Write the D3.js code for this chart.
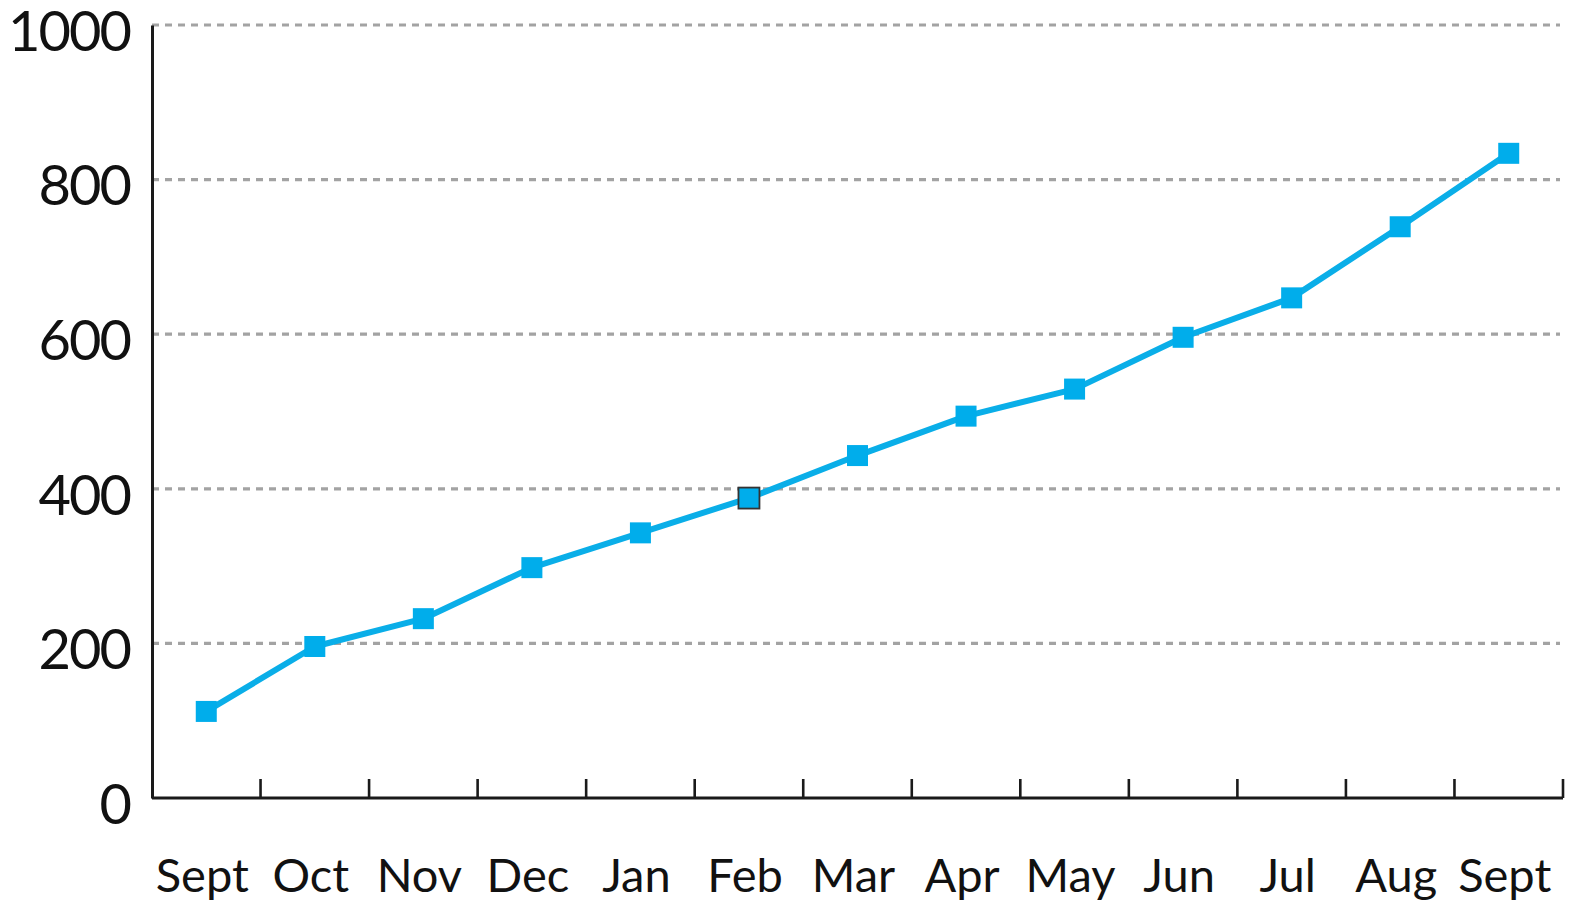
<!DOCTYPE html>
<html>
<head>
<meta charset="utf-8">
<script src="https://cdn.jsdelivr.net/npm/d3@7"></script>
<style>
  html, body { margin: 0; padding: 0; background: #fff; }
  svg { display: block; }
  .tick text { font-family: "Lato", "Liberation Sans", sans-serif; fill: #111; }
</style>
</head>
<body>
<div id="chart"></div>
<script>
const months = ["Sept", "Oct", "Nov", "Dec", "Jan", "Feb", "Mar", "Apr", "May", "Jun", "Jul", "Aug", "Sept"]
const values = [112, 196, 232, 298, 343, 388, 443, 494, 529, 596, 647, 739, 834]
const yTicks = [0, 200, 400, 600, 800, 1000]
const selectedIndex = 5

const width = 1573, height = 902
const margin = {top: 25, right: 10, bottom: 104, left: 152}
const innerW = width - margin.left - margin.right
const innerH = height - margin.top - margin.bottom

const svg = d3.select("#chart").append("svg")
    .attr("width", width)
    .attr("height", height)
  .append("g")
    .attr("transform", "translate(" + margin.left + "," + margin.top + ")")

// index keeps the two "Sept" bands apart
const x = d3.scaleBand()
    .domain(months.map((m, i) => i))
    .range([0, innerW])
    .padding(0)

const y = d3.scaleLinear()
    .domain([0, 1000])
    .range([innerH, 0])

// dashed grid
svg.append("g")
  .selectAll("line")
  .data(yTicks.filter(d => d > 0))
  .join("line")
    .attr("x1", 0)
    .attr("x2", innerW - 3)
    .attr("y1", d => y(d))
    .attr("y2", d => y(d))
    .attr("stroke", "#a3a3a3")
    .attr("stroke-width", 3.2)
    .attr("stroke-dasharray", "7,6")

// y axis
const yAxis = svg.append("g")
    .call(d3.axisLeft(y).tickValues(yTicks).tickFormat(d3.format("d")).tickSize(0).tickPadding(22))
yAxis.select(".domain").attr("stroke", "#1a1a1a").attr("stroke-width", 3)
yAxis.selectAll(".tick text")
    .attr("font-size", 56)
    .attr("dy", "0.45em")
    .attr("letter-spacing", -2)

// x axis: ticks on band edges, labels at band centres
const xAxis = svg.append("g")
    .attr("transform", "translate(0," + innerH + ")")
xAxis.append("line")
    .attr("x1", 0).attr("x2", innerW)
    .attr("stroke", "#1a1a1a").attr("stroke-width", 3)
xAxis.selectAll(".edge")
  .data(months.map((m, i) => i))
  .join("line")
    .attr("class", "edge")
    .attr("x1", d => x(d) + x.bandwidth())
    .attr("x2", d => x(d) + x.bandwidth())
    .attr("y1", 0)
    .attr("y2", -19)
    .attr("stroke", "#1a1a1a")
    .attr("stroke-width", 2.6)
xAxis.selectAll(".tick")
  .data(months.map((m, i) => i))
  .join("g")
    .attr("class", "tick")
    .attr("transform", d => "translate(" + (x(d) + x.bandwidth() / 2 - 4) + ",0)")
  .append("text")
    .attr("y", 94)
    .attr("text-anchor", "middle")
    .attr("font-size", 47)
    .text(d => months[d])

// line + markers
const line = d3.line()
    .x((d, i) => x(i) + x.bandwidth() / 2)
    .y(d => y(d))

svg.append("path")
    .datum(values)
    .attr("fill", "none")
    .attr("stroke", "#0aaee8")
    .attr("stroke-width", 6)
    .attr("stroke-linejoin", "round")
    .attr("d", line)

const s = 21
svg.append("g")
  .selectAll("rect")
  .data(values)
  .join("rect")
    .attr("x", (d, i) => x(i) + x.bandwidth() / 2 - s / 2)
    .attr("y", d => y(d) - s / 2)
    .attr("width", s)
    .attr("height", s)
    .attr("fill", "#00adeb")
    .attr("stroke", (d, i) => i === selectedIndex ? "#333" : "none")
    .attr("stroke-width", 1.8)
</script>
</body>
</html>
